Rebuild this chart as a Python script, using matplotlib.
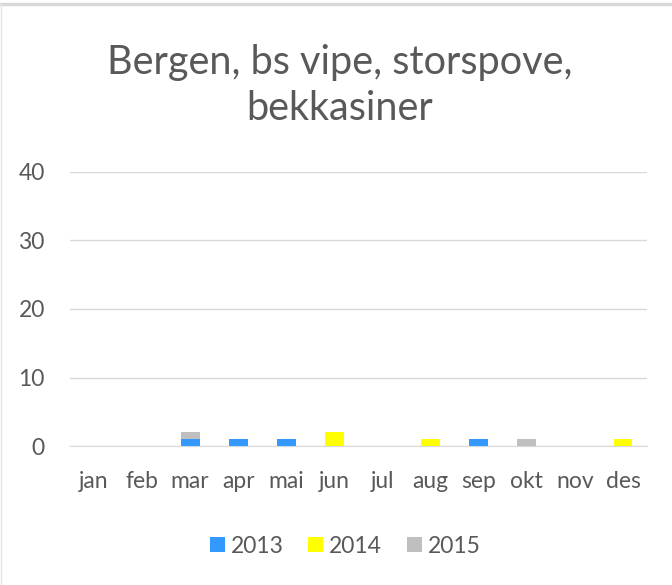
import matplotlib.pyplot as plt
from matplotlib.lines import Line2D
import numpy as np

plt.rcParams['font.family'] = ['Lato', 'DejaVu Sans']

months = ['jan', 'feb', 'mar', 'apr', 'mai', 'jun', 'jul', 'aug', 'sep', 'okt', 'nov', 'des']
years = ['2013', '2014', '2015']
v2013 = [0, 0, 1, 1, 1, 0, 0, 0, 1, 0, 0, 0]
v2014 = [0, 0, 0, 0, 0, 2, 0, 1, 0, 0, 0, 1]
v2015 = [0, 0, 1, 0, 0, 0, 0, 0, 0, 1, 0, 0]
colors = ['#3399ff', '#ffff00', '#bfbfbf']

txt = '#595959'

fig = plt.figure(figsize=(6.72, 5.85), dpi=100)
ax = fig.add_axes([0.104, 0.2376, 0.859, 0.4684])

x = np.arange(len(months))
bottom = np.zeros(len(months))
for vals, c, lab in zip([v2013, v2014, v2015], colors, years):
    ax.bar(x, vals, width=0.39, bottom=bottom, color=c, label=lab, zorder=3)
    bottom += np.array(vals)

ax.set_xlim(-0.5, len(months) - 0.5)
ax.set_ylim(0, 40)
ax.set_yticks([0, 10, 20, 30, 40])
ax.set_xticks(x)
ax.set_xticklabels(months)
ax.tick_params(axis='both', length=0, labelsize=16.5, colors=txt)
ax.tick_params(axis='y', pad=18)
ax.tick_params(axis='x', pad=18)
ax.grid(axis='y', color='#d9d9d9', linewidth=1, zorder=0)
for s in ['top', 'right', 'left']:
    ax.spines[s].set_visible(False)
ax.spines['bottom'].set_color('#d9d9d9')

fig.text(0.505, 0.853, 'Bergen, bs vipe, storspove,\nbekkasiner', ha='center', va='center',
         fontsize=28.5, color=txt, linespacing=1.3)

leg = ax.legend(loc='center', bbox_to_anchor=(0.477, -0.365), ncol=3, frameon=False,
                fontsize=16.5, handlelength=0.65, handleheight=0.65, handletextpad=0.25,
                columnspacing=1.1)
for t in leg.get_texts():
    t.set_color(txt)

# chart frame edges
fig.add_artist(Line2D([0, 1], [0.993, 0.993], transform=fig.transFigure, color='#d9d9d9', lw=2.5))
fig.add_artist(Line2D([0.002, 0.002], [0, 0.993], transform=fig.transFigure, color='#e6e6e6', lw=1))

fig.savefig('out.png', dpi=100)
